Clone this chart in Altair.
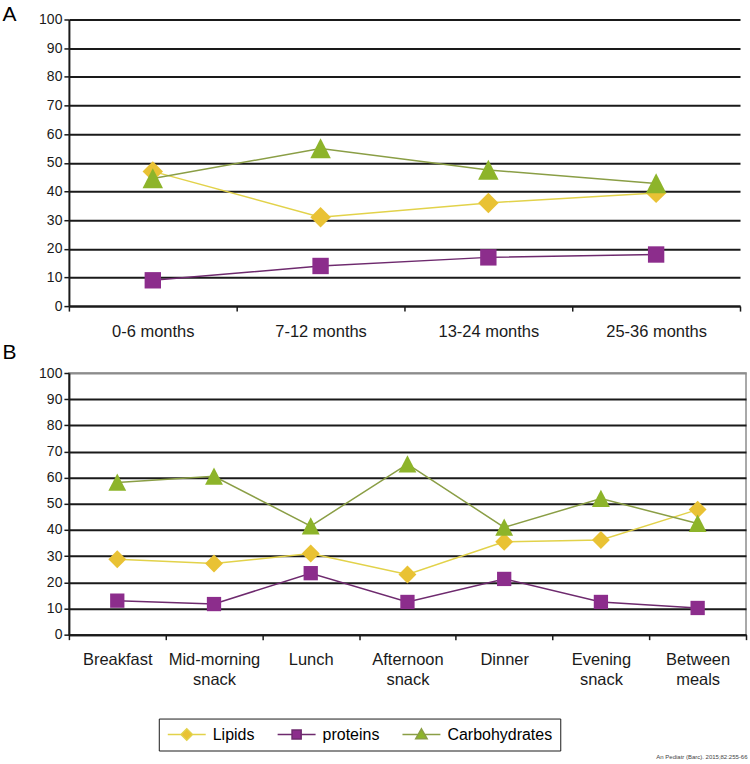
import altair as alt
import pandas as pd

FONT = "Liberation Sans"

series = ["Lipids", "proteins", "Carbohydrates"]

ages = ["0-6 months", "7-12 months", "13-24 months", "25-36 months"]
lipids_age = [47, 31, 36, 39.5]
proteins_age = [9, 14, 17, 18]
carbs_age = [44.5, 55, 47.5, 42.8]

meals = ["Breakfast", "Mid-morning snack", "Lunch", "Afternoon snack",
         "Dinner", "Evening snack", "Between meals"]
lipids_meal = [28.8, 27.2, 31, 23, 35.5, 36.2, 47.8]
proteins_meal = [13, 11.7, 23.5, 12.5, 21.3, 12.5, 10.2]
carbs_meal = [58.2, 60.5, 41.5, 65.2, 41, 52, 42.5]

y_ticks = list(range(0, 101, 10))
source_note = "An Pediatr (Barc). 2015;82:255-66"

line_colors = ["#E2D24A", "#6E2A6E", "#8A9E45"]
marker_colors = ["#E9C234", "#8C2D8C", "#8DB42A"]
marker_shapes = ["diamond", "M-0.8,-0.8H0.8V0.8H-0.8Z", "M0,-1L1,0.95H-1Z"]
legend_paths = [
    "M-1,0H-0.3M0,-0.3L0.3,0L0,0.3L-0.3,0ZM0.3,0H1",
    "M-1,0H-0.24M-0.24,-0.24H0.24V0.24H-0.24ZM0.24,0H1",
    "M-1,0H-0.17M0,-0.3L0.3,0.22H-0.3ZM0.17,0H1",
]


def to_long(cats, values):
    rows = []
    for s, vals in zip(series, values):
        for c, v in zip(cats, vals):
            rows.append({"category": c, "series": s, "value": v})
    return pd.DataFrame(rows)


def panel(df, cats, letter, marker_size, title_y, label_expr=None,
          grid_color="#1a1a1a"):
    axis_x = dict(title=None, labelAngle=0, tickBand="extent", tickSize=5,
                  tickColor="#1a1a1a", tickWidth=1.5, domainColor="#1a1a1a",
                  domainWidth=2, labelFont=FONT, labelFontSize=16.5,
                  labelColor="#1a1a1a", labelPadding=12, labelLineHeight=20,
                  labelBaseline="top", grid=False)
    if label_expr:
        axis_x["labelExpr"] = label_expr
    x = alt.X("category:N", sort=cats,
              scale=alt.Scale(type="band", domain=cats, paddingInner=0,
                              paddingOuter=0),
              axis=alt.Axis(**axis_x))
    y = alt.Y("value:Q", scale=alt.Scale(domain=[0, 100], nice=False),
              axis=alt.Axis(values=y_ticks, title=letter, titleAngle=0,
                            titleX=-67, titleY=title_y, titleAlign="left",
                            titleBaseline="alphabetic", titleFont=FONT,
                            titleFontSize=21, titleFontWeight="normal",
                            titleColor="black", grid=True,
                            gridColor=grid_color, gridWidth=2,
                            domainColor="#1a1a1a", domainWidth=2,
                            tickColor="#1a1a1a", tickSize=5, tickWidth=1.5,
                            labelFont=FONT, labelFontSize=14,
                            labelColor="#1a1a1a", labelPadding=2))
    base = alt.Chart(df)
    line = base.mark_line(strokeWidth=1.5).encode(
        x=x, y=y,
        color=alt.Color("series:N", scale=alt.Scale(domain=series, range=line_colors),
                        legend=None),
    )
    pts = base.mark_point(filled=True, opacity=1, size=marker_size).encode(
        x=x, y=y,
        fill=alt.Fill("series:N", scale=alt.Scale(domain=series, range=marker_colors),
                      legend=None),
        shape=alt.Shape("series:N", scale=alt.Scale(domain=series, range=marker_shapes),
                        legend=None),
    )
    return line, pts


line_a, pts_a = panel(to_long(ages, [lipids_age, proteins_age, carbs_age]), ages,
                      "A", 420, 1)
chart_a = alt.layer(line_a, pts_a).properties(width=672, height=287)

grid_b = {"condition": {"test": "datum.value === 100", "value": "#8c8c8c"},
          "value": "#1a1a1a"}
line_b, pts_b = panel(to_long(meals, [lipids_meal, proteins_meal, carbs_meal]), meals,
                      "B", 320, -15,
                      label_expr="split(datum.label, ' ')", grid_color=grid_b)

leg_opts = dict(title=None, orient="none", legendX=90, legendY=346,
                direction="horizontal", strokeColor="#1a1a1a", padding=8,
                symbolSize=1444, symbolStrokeWidth=1.5, clipHeight=16,
                labelFont=FONT, labelFontSize=16, labelColor="black",
                labelOffset=6, columnPadding=22, symbolOpacity=1)
legend_df = pd.DataFrame({"entry": series})
legend_layer = alt.Chart(legend_df).transform_filter(
    alt.datum.entry == "__none__"
).mark_point(filled=True).encode(
    fill=alt.Fill("entry:N", scale=alt.Scale(domain=series, range=marker_colors),
                  legend=alt.Legend(**leg_opts)),
    stroke=alt.Stroke("entry:N", scale=alt.Scale(domain=series, range=line_colors),
                      legend=alt.Legend(**leg_opts)),
    shape=alt.Shape("entry:N", scale=alt.Scale(domain=series, range=legend_paths),
                    legend=alt.Legend(**leg_opts)),
)

chart_b = alt.layer(line_b, pts_b, legend_layer).resolve_scale(
    color="independent", fill="independent", shape="independent",
    stroke="independent"
).resolve_legend(
    color="independent", fill="independent", shape="independent",
    stroke="independent"
).properties(width=678, height=262,
             view=alt.ViewBackground(stroke="#8c8c8c", strokeWidth=1.5))

chart = alt.vconcat(chart_a, chart_b, spacing=0).resolve_scale(
    color="independent", fill="independent", shape="independent",
    stroke="independent"
).resolve_legend(
    color="independent", fill="independent", shape="independent",
    stroke="independent"
).properties(
    title=alt.TitleParams(source_note, orient="bottom", anchor="end", fontSize=6,
                          font=FONT, fontWeight="normal", color="#444", offset=2),
    padding={"left": 1, "top": 3, "right": 2, "bottom": 0},
).configure(font=FONT).configure_view(stroke=None)

chart.save("out.html", embed_options={"renderer": "svg", "actions": False})
